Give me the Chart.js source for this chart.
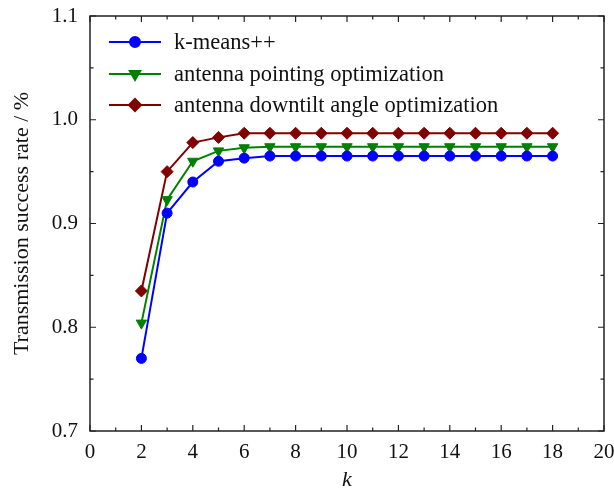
<!DOCTYPE html>
<html>
<head>
<meta charset="utf-8">
<script src="https://cdn.jsdelivr.net/npm/chart.js@4.4.1/dist/chart.umd.min.js"></script>
<style>
  html, body { margin: 0; padding: 0; background: #fff; }
  #wrap { width: 614px; height: 494px; }
</style>
</head>
<body>
<div id="wrap"><canvas id="chart" width="614" height="494"></canvas></div>
<script>
const kValues = [2, 3, 4, 5, 6, 7, 8, 9, 10, 11, 12, 13, 14, 15, 16, 17, 18];
const kmeans = [0.770, 0.910, 0.940, 0.960, 0.963, 0.965, 0.965, 0.965, 0.965, 0.965, 0.965, 0.965, 0.965, 0.965, 0.965, 0.965, 0.965];
const pointing = [0.804, 0.923, 0.960, 0.970, 0.973, 0.974, 0.974, 0.974, 0.974, 0.974, 0.974, 0.974, 0.974, 0.974, 0.974, 0.974, 0.974];
const downtilt = [0.835, 0.950, 0.978, 0.983, 0.987, 0.987, 0.987, 0.987, 0.987, 0.987, 0.987, 0.987, 0.987, 0.987, 0.987, 0.987, 0.987];
const seriesNames = ['k-means++', 'antenna pointing optimization', 'antenna downtilt angle optimization'];
const yTicks = [0.7, 0.8, 0.9, 1.0, 1.1];
const xTicks = [0, 2, 4, 6, 8, 10, 12, 14, 16, 18, 20];

const FONT = '"Liberation Serif", "Times New Roman", serif';

function toPoints(vals) {
  return kValues.map((k, i) => ({ x: k, y: vals[i] }));
}

function makeSet(label, vals, color, style, radius, rotation) {
  return {
    label: label,
    data: toPoints(vals),
    borderColor: color,
    backgroundColor: color,
    borderWidth: 2,
    pointStyle: style,
    pointRadius: radius,
    pointRotation: rotation || 0,
    pointBorderWidth: 1,
    tension: 0
  };
}

// frame, inward ticks and the line+marker legend
const framePlugin = {
  id: 'frame',
  afterDraw(chart) {
    const ctx = chart.ctx;
    const a = chart.chartArea;
    const xs = chart.scales.x, ys = chart.scales.y;
    ctx.save();
    ctx.strokeStyle = '#222';
    ctx.lineWidth = 1.5;
    ctx.strokeRect(a.left, a.top, a.right - a.left, a.bottom - a.top);
    ctx.lineWidth = 1.2;
    ctx.beginPath();
    for (let v = 0; v <= 20; v += 1) {
      const px = xs.getPixelForValue(v);
      const len = v % 2 === 0 ? 6 : 3.5;
      ctx.moveTo(px, a.bottom); ctx.lineTo(px, a.bottom - len);
      ctx.moveTo(px, a.top); ctx.lineTo(px, a.top + len);
    }
    for (let i = 0; i <= 8; i++) {
      const v = 0.7 + i * 0.05;
      const py = ys.getPixelForValue(v);
      const len = i % 2 === 0 ? 6 : 3.5;
      ctx.moveTo(a.left, py); ctx.lineTo(a.left + len, py);
      ctx.moveTo(a.right, py); ctx.lineTo(a.right - len, py);
    }
    ctx.stroke();

    // legend
    const rows = [42, 74, 105];
    chart.data.datasets.forEach((ds, i) => {
      const y = rows[i];
      ctx.strokeStyle = ds.borderColor;
      ctx.lineWidth = 2;
      ctx.beginPath();
      ctx.moveTo(109, y); ctx.lineTo(161, y);
      ctx.stroke();
      Chart.helpers.drawPoint(ctx, {
        pointStyle: ds.pointStyle,
        radius: ds.pointRadius,
        rotation: ds.pointRotation,
        borderWidth: 1
      }, 135, y);
      ctx.fillStyle = ds.borderColor;
      ctx.fill();
      ctx.fillStyle = '#111';
      ctx.font = '22.5px ' + FONT;
      ctx.textBaseline = 'middle';
      ctx.textAlign = 'left';
      ctx.fillText(ds.label, 174, y + 1);
    });
    ctx.restore();
  }
};

new Chart(document.getElementById('chart'), {
  type: 'line',
  data: {
    datasets: [
      makeSet(seriesNames[0], kmeans, '#0000ff', 'circle', 5, 0),
      makeSet(seriesNames[1], pointing, '#008000', 'triangle', 6, 180),
      makeSet(seriesNames[2], downtilt, '#800000', 'rectRot', 6, 0)
    ]
  },
  options: {
    responsive: false,
    animation: false,
    layout: { padding: { top: 16, right: 10, left: 0, bottom: 0 } },
    plugins: { legend: { display: false }, tooltip: { enabled: false } },
    scales: {
      x: {
        type: 'linear',
        min: 0, max: 20,
        afterFit(s) { s.height = 63; s.paddingLeft = 0; s.paddingRight = 0; },
        afterBuildTicks(s) { s.ticks = xTicks.map(v => ({ value: v })); },
        grid: { display: false, drawTicks: false },
        border: { display: false },
        ticks: { color: '#111', padding: 9, font: { family: FONT, size: 21 }, maxRotation: 0 },
        title: { display: true, text: 'k', color: '#111', font: { family: FONT, size: 22, style: 'italic', lineHeight: 1 }, padding: { top: 0, bottom: 3 } }
      },
      y: {
        type: 'linear',
        min: 0.7, max: 1.1,
        afterFit(s) { s.width = 90; s.paddingTop = 0; s.paddingBottom = 0; },
        afterBuildTicks(s) { s.ticks = yTicks.map(v => ({ value: v })); },
        grid: { display: false, drawTicks: false },
        border: { display: false },
        ticks: { color: '#111', padding: 12, font: { family: FONT, size: 21 }, callback: v => v.toFixed(1) },
        title: { display: true, text: 'Transmission success rate / %', color: '#111', font: { family: FONT, size: 22 }, padding: { top: 9, bottom: 0 } }
      }
    }
  },
  plugins: [framePlugin]
});
</script>
</body>
</html>
